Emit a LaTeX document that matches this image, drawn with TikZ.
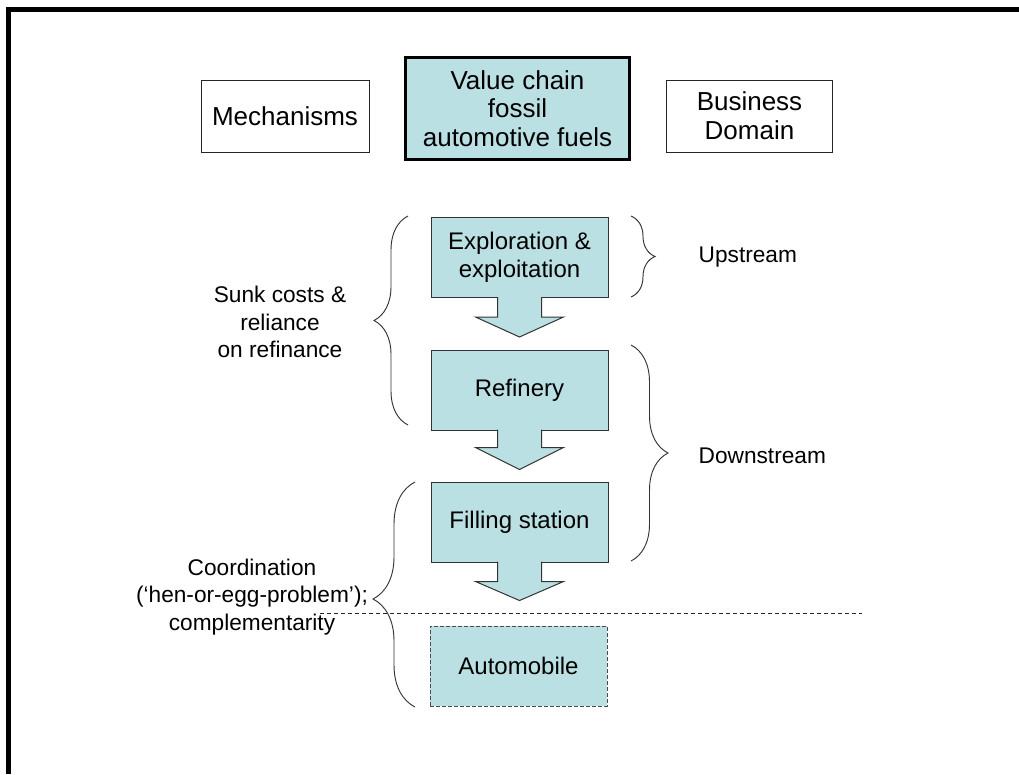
\documentclass[tikz,border=0pt]{standalone}
\usepackage{fontspec}
\setmainfont{Liberation Sans}
\usetikzlibrary{calc,decorations.pathreplacing}

\definecolor{stagefill}{RGB}{187,224,227}

\begin{document}
\begin{tikzpicture}[x=0.75pt,y=-0.75pt]
\tikzset{
	txt/.style={font=\fontsize{17}{20.5}\selectfont, align=center},
	head/.style={font=\fontsize{19.5}{21.5}\selectfont, align=center, rectangle, draw=black!85, line width=0.75pt, inner sep=0pt},
	stage/.style={font=\fontsize{18}{21}\selectfont, align=center, rectangle, draw=black!80, fill=stagefill, line width=0.75pt, inner sep=0pt,
		minimum width=132.75pt, minimum height=60pt},
	blockarrow/.style={draw=black!80, fill=stagefill, line width=0.75pt, line join=miter},
	curly/.style={draw=black!80, line width=0.7pt, decorate,
		decoration={brace, amplitude=#1}}
}
\useasboundingbox (0,0) rectangle (1019,774);

% frame
\draw[line width=3.75pt] (8.5,774) -- (8.5,9.5) -- (1019,9.5);

% top row
\node[head, minimum width=126pt, minimum height=54pt] (mech) at (285,116) {Mechanisms};
\node[head, fill=stagefill, draw=black, line width=2.25pt, minimum width=168pt, minimum height=77pt] (chain) at (517.5,108.5) {Value chain\\fossil\\automotive fuels};
\node[head, minimum width=125pt, minimum height=54pt] (busi) at (749.5,116) {Business\\Domain};

% value chain
\node[stage] (expl) at (519.5,257.5) {Exploration \&\\exploitation};
\node[stage] (refi) at (519.5,390) {Refinery};
\node[stage] (fill) at (519.5,522) {Filling station};
\node[stage, dashed, dash pattern=on 3pt off 1.5pt, draw=black!70] (auto) at (518.5,666) {Automobile};

% block arrows
\filldraw[blockarrow] ($(expl.south)+(-22,-1)$) -- ++(0,20) -- ++(-22,0) -- ++(44,20) -- ++(44,-20) -- ++(-22,0) -- ++(0,-20);
\filldraw[blockarrow] ($(refi.south)+(-22,-1)$) -- ++(0,18) -- ++(-22,0) -- ++(44,22) -- ++(44,-22) -- ++(-22,0) -- ++(0,-18);
\filldraw[blockarrow] ($(fill.south)+(-22,-1)$) -- ++(0,20) -- ++(-22,0) -- ++(44,19) -- ++(44,-19) -- ++(-22,0) -- ++(0,-20);

% separator
\draw[black!85, line width=0.75pt, dash pattern=on 3pt off 2.25pt] (320,613) -- (862,613);

% braces
\draw[curly=25.5pt] (408,425) -- (408,216);
\draw[curly=31.5pt, decoration={aspect=0.48}] (415,707) -- (415,482);
\draw[curly=18pt] (631,216) -- (631,297);
\draw[curly=27.75pt] (631,345) -- (631,561);

% labels
\node[txt, anchor=west] (upst) at (694,257) {Upstream};
\node[txt, anchor=west] (down) at (694,456) {Downstream};
\node[txt] (sunk) at (280,322) {Sunk costs \&\\reliance\\ on refinance};
\node[txt] (coord) at (252,597) {Coordination\\(`hen-or-egg-problem');\\complementarity};

\end{tikzpicture}
\end{document}
